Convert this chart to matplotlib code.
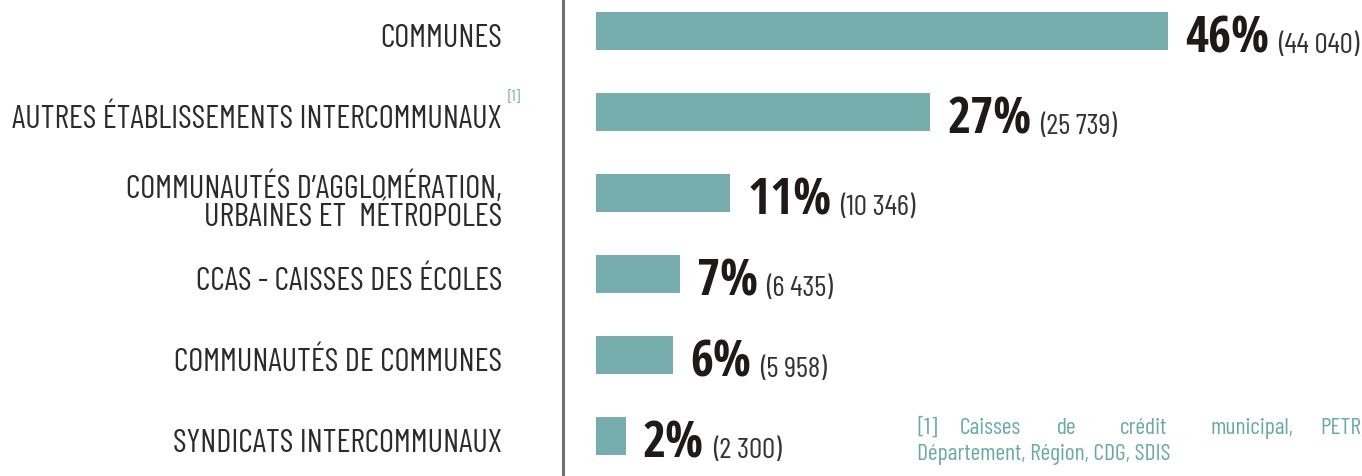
import matplotlib
matplotlib.use("Agg")
import matplotlib.pyplot as plt
from matplotlib import transforms

# data
categories = [
    "COMMUNES",
    "AUTRES ÉTABLISSEMENTS INTERCOMMUNAUX",
    "COMMUNAUTÉS D’AGGLOMÉRATION,\nURBAINES ET  MÉTROPOLES",
    "CCAS - CAISSES DES ÉCOLES",
    "COMMUNAUTÉS DE COMMUNES",
    "SYNDICATS INTERCOMMUNAUX",
]
counts = [44040, 25739, 10346, 6435, 5958, 2300]
percents = ["46%", "27%", "11%", "7%", "6%", "2%"]
count_labels = ["(44 040)", "(25 739)", "(10 346)", "(6 435)", "(5 958)", "(2 300)"]
footnote_words = ["[1]", "Caisses", "de", "crédit", "municipal,", "PETR,"]
footnote_line2 = "Département, Région, CDG, SDIS"

W, H = 1362, 477
BAR = "#77aead"
TEXT = "#2b2b2b"
TEAL = "#6aa9a8"
LIGHT = "Barlow Condensed"
BOLD = "Open Sans Condensed"

fig = plt.figure(figsize=(W / 100, H / 100), dpi=100)


def fx(x):
    return x / W


def fy(y):
    return 1 - y / H


# axes: left spine is the grey vertical line
ax = fig.add_axes([fx(563), 0, (W - 563) / W, 1])
k = 572 / counts[0]          # pixels per unit
ax.set_xlim(-33 / k, (W - 563 - 33) / k)
ax.set_ylim((H - 32) / 81, -32 / 81)
ax.barh(range(len(counts)), counts, height=38 / 81, left=0, color=BAR)

for s in ["top", "right", "bottom"]:
    ax.spines[s].set_visible(False)
ax.spines["left"].set_color("#707070")
ax.spines["left"].set_linewidth(2.2)
ax.set_xticks([])
ax.set_yticks([])

renderer = fig.canvas.get_renderer()
for i, (c, p, cl) in enumerate(zip(counts, percents, count_labels)):
    tr = transforms.offset_copy(ax.transData, fig=fig, x=17, y=-21, units="dots")
    t = ax.text(c, i, p, transform=tr, ha="left", va="baseline",
                fontsize=36, family=BOLD, weight="bold", color="#1e1a1a")
    bb = t.get_window_extent(renderer)
    tr2 = transforms.offset_copy(ax.transData, fig=fig, x=17 + bb.width + 9,
                                 y=-21, units="dots")
    ax.text(c, i, cl, transform=tr2, ha="left", va="baseline",
            fontsize=21, family=LIGHT, weight=400, color="#333333")

# category labels, sized so the widest one spans x=12..502 like the original
labels = []
for i, lab in enumerate(categories):
    yc = 32 + 81 * i
    n = lab.count("\n")
    labels.append(fig.text(fx(502), fy(yc + 15 + 17 * n), lab, ha="right",
                           va="baseline", fontsize=28, family=LIGHT,
                           weight=400, color=TEXT, linespacing=0.9))
widest = max(t.get_window_extent(renderer).width for t in labels)
size = min(28, 28 * 490 / widest)
for t in labels:
    t.set_fontsize(size)

fig.text(fx(508), fy(101), "[1]", ha="left", va="baseline",
         fontsize=11, family=LIGHT, weight=400, color=TEAL)

# footnote
word_x = [917, 960, 1057, 1120, 1211, 1320]
for wx, w in zip(word_x, footnote_words):
    fig.text(fx(wx), fy(434), w, ha="left", va="baseline",
             fontsize=17, family=LIGHT, weight=400, color=TEAL)
fig.text(fx(917), fy(460), footnote_line2, ha="left", va="baseline",
         fontsize=17, family=LIGHT, weight=400, color=TEAL)

fig.savefig("out.png", dpi=100)
